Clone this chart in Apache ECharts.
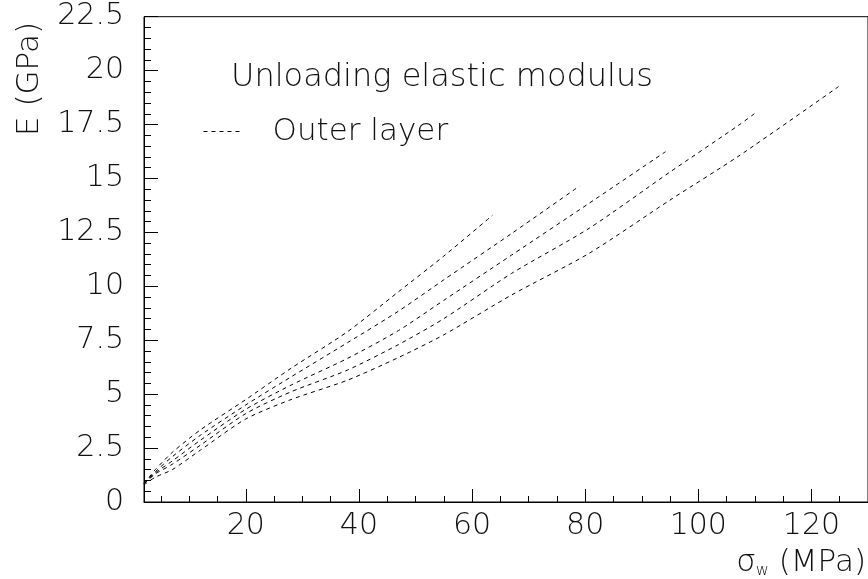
<!DOCTYPE html>
<html>
<head>
<meta charset="utf-8">
<script src="https://cdn.jsdelivr.net/npm/echarts@6/dist/echarts.min.js"></script>
<style>
  html, body { margin: 0; padding: 0; background: #fff; }
  #chart { width: 868px; height: 579px; }
</style>
</head>
<body>
<div id="chart"></div>
<script>
// Unloading elastic modulus E (GPa) vs. sigma_w (MPa), outer layer, five loading levels
const sigma1 = [2, 4, 7, 12, 20, 28, 38, 47, 55, 63.6];
const modulus1 = [0.85, 1.5, 2.3, 3.35, 4.75, 6.2, 7.9, 9.75, 11.4, 13.29];

const sigma2 = [2, 4, 7, 12, 20, 28, 38, 47, 55, 67, 79];
const modulus2 = [0.85, 1.4, 2.1, 3.1, 4.5, 5.8, 7.39, 8.85, 10.3, 12.45, 14.65];

const sigma3 = [2, 4, 7, 12, 20, 28, 38, 47, 55, 67, 80.7, 94.2];
const modulus3 = [0.85, 1.35, 1.9, 2.87, 4.3, 5.42, 6.66, 7.95, 9.35, 11.45, 13.85, 16.24];

const sigma4 = [2, 4, 7, 12, 20, 28, 38, 47, 55, 67, 80.7, 95, 107.2, 110];
const modulus4 = [0.85, 1.3, 1.75, 2.64, 4.1, 5.11, 6.12, 7.3, 8.5, 10.6, 12.69, 15.3, 17.48, 18.02];

const sigma5 = [2, 4, 7, 12, 20, 28, 38, 47, 55, 67, 80.7, 95, 107.2, 124.8];
const modulus5 = [0.8, 1.15, 1.5, 2.41, 3.85, 4.75, 5.65, 6.7, 7.75, 9.6, 11.53, 14.0, 16.05, 19.26];

const seriesName = 'Outer layer';
const annotation = 'Unloading elastic modulus';
const xTitleSymbol = 'σ';
const xTitleSub = 'w';
const xTitleUnit = ' (MPa)';
const yTitle = 'E (GPa)';

const FONT = '"DejaVu Sans", sans-serif';
const WEIGHT = 200;
const INK = '#111';

function pairs(xs, ys) {
  return xs.map((x, i) => [x, ys[i]]);
}

const curves = [
  pairs(sigma1, modulus1),
  pairs(sigma2, modulus2),
  pairs(sigma3, modulus3),
  pairs(sigma4, modulus4),
  pairs(sigma5, modulus5)
];

const chart = echarts.init(document.getElementById('chart'), null, { renderer: 'canvas' });

const axisText = { color: INK, fontFamily: FONT, fontWeight: WEIGHT, fontSize: 30 };
const tickLine = { color: '#000', width: 1 };

chart.setOption({
  animation: false,
  backgroundColor: '#fff',
  grid: {
    left: 144, top: 16.7, width: 725.4, height: 485.3,
    show: true, borderColor: '#000', borderWidth: 1, backgroundColor: 'transparent'
  },
  xAxis: [
    {
      // labelled axis: steps of 20
      type: 'value', min: 2, max: 130, splitNumber: 6,
      axisLine: { show: true, onZero: false, lineStyle: tickLine },
      axisTick: { show: true, inside: true, length: 13, lineStyle: tickLine },
      axisLabel: Object.assign({ margin: 9, showMinLabel: false, showMaxLabel: false }, axisText),
      splitLine: { show: false }
    },
    {
      // fine ticks: steps of 5
      type: 'value', min: 2, max: 130, splitNumber: 26, position: 'bottom', gridIndex: 0,
      axisLine: { show: false, onZero: false },
      axisTick: { show: true, inside: true, length: 6, lineStyle: tickLine },
      axisLabel: { show: false },
      splitLine: { show: false }
    }
  ],
  yAxis: {
    type: 'value', min: 0, max: 22.5, interval: 2.5,
    axisLine: { show: true, onZero: false, lineStyle: tickLine },
    axisTick: { show: true, inside: true, length: 14, lineStyle: tickLine },
    minorTick: { show: true, splitNumber: 5, length: 7, lineStyle: tickLine },
    axisLabel: Object.assign({ margin: 20 }, axisText),
    splitLine: { show: false }
  },
  legend: {
    data: [seriesName],
    left: 203, top: 116, padding: 0,
    itemWidth: 40, itemHeight: 14, itemGap: 10,
    itemStyle: { opacity: 0 },
    lineStyle: { color: '#000', width: 1, type: [4, 4] },
    textStyle: { color: INK, fontFamily: FONT, fontWeight: WEIGHT, fontSize: 31, padding: [0, 0, 0, 24] }
  },
  graphic: [
    {
      type: 'text', x: 231, y: 77.5,
      style: { text: annotation, fill: INK, font: WEIGHT + ' 32px ' + FONT, align: 'left', verticalAlign: 'middle' }
    },
    {
      type: 'text', x: 30, y: 79, rotation: Math.PI / 2,
      style: { text: yTitle, fill: INK, font: WEIGHT + ' 31px ' + FONT, align: 'center', verticalAlign: 'middle' }
    },
    {
      type: 'text', x: 866, y: 563,
      style: {
        text: '{s|' + xTitleSymbol + '}{w|' + xTitleSub + '}{s|' + xTitleUnit + '}',
        align: 'right', verticalAlign: 'middle',
        rich: {
          s: { fill: INK, font: WEIGHT + ' 31px ' + FONT, verticalAlign: 'middle' },
          w: { fill: INK, font: WEIGHT + ' 16px ' + FONT, verticalAlign: 'bottom', padding: [13, 0, 0, 0] }
        }
      }
    }
  ],
  series: curves.map(data => ({
    name: seriesName,
    type: 'line',
    xAxisIndex: 0,
    data: data,
    smooth: 0.25,
    showSymbol: false,
    symbol: 'none',
    lineStyle: { color: '#000', width: 1, type: [4, 4] },
    itemStyle: { color: '#000' },
    emphasis: { disabled: true }
  }))
});
</script>
</body>
</html>
